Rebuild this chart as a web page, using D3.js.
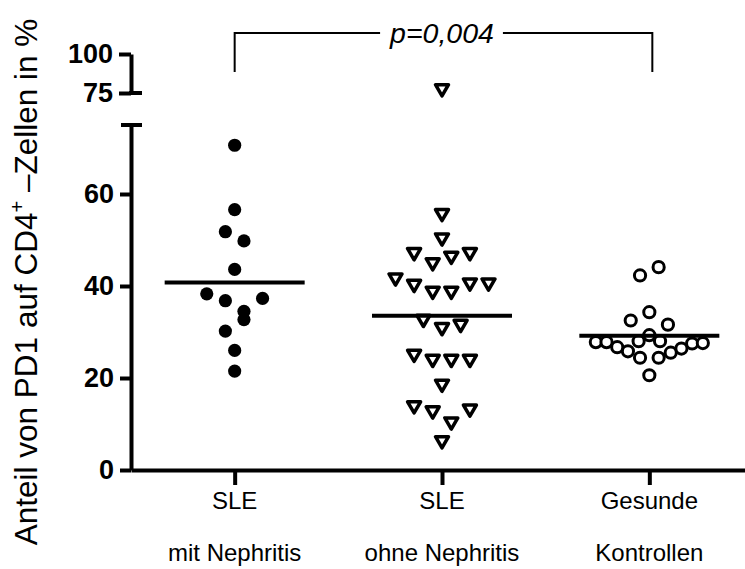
<!doctype html>
<html>
<head>
<meta charset="utf-8">
<style>
    body { margin: 0; background: #fff; }
    text { font-family: "Liberation Sans", Arial, sans-serif; fill: #000; }
    .yaxis .tick text { font-weight: bold; font-size: 27px; }
    .yaxis path, .yaxis line, .xaxis path, .xaxis line { stroke: #000; stroke-width: 4; }
    .cap { stroke: #000; stroke-width: 4; }
    .mean { stroke: #000; stroke-width: 4; }
    .bracket { stroke: #000; stroke-width: 2; fill: none; }
</style>
<script src="https://d3js.org/d3.v7.min.js"></script>
</head>
<body>
<svg width="745" height="569"></svg>
<script>

// categories and values
var groups = ["SLE mit Nephritis", "SLE ohne Nephritis", "Gesunde Kontrollen"];
var groupLabels = [["SLE", "mit Nephritis"], ["SLE", "ohne Nephritis"], ["Gesunde", "Kontrollen"]];

var mitNephritis = [70.6, 56.6, 51.8, 49.8, 43.6, 38.3, 36.8, 34.5, 37.3, 30.2, 32.7, 26.0, 21.5];
var ohneNephritis = [77, 55.5, 50.2, 47.0, 44.8, 46.2, 47.0, 41.5, 40.1, 38.6, 38.6, 40.4, 40.4,
                     32.5, 30.7, 31.4, 24.9, 23.8, 23.8, 23.8, 18.4, 13.7, 12.6, 10.2, 13.0, 6.1];
var kontrollen = [42.3, 44.1, 32.5, 34.3, 31.6, 27.8, 27.8, 26.7, 25.8, 28.0, 29.3, 28.0,
                  25.5, 26.4, 27.5, 27.6, 24.4, 24.4, 20.6];

var lowTicks = [0, 20, 40, 60];
var highTicks = [75, 100];
var pLabel = "p=0,004";

var series = [mitNephritis, ohneNephritis, kontrollen];
var shapes = ["dot", "triangle", "ring"];

var svg = d3.select("svg");

var axisX = 131,
    axisY = 470;

var yLow = d3.scaleLinear().domain([0, 75]).range([axisY, 125]),
    yHigh = d3.scaleLinear().domain([75, 100]).range([93, 54]);

function y(v) { return v > 75 ? yHigh(v) : yLow(v); }

var x = d3.scalePoint().domain(groups).range([axisX, 753]).padding(0.5);

// simple GraphPad-like scatter: bin into rows, spread each row around the centre
function swarm(values) {
    var gapMax = 2.8, spanMax = 4.3, step = 18.6, maxHalf = 53.5;
    var items = values.map(function(v, i) { return {v: v, i: i, dx: 0}; });
    var sorted = items.slice().sort(function(a, b) { return b.v - a.v || a.i - b.i; });
    var rows = [], row = null;
    sorted.forEach(function(d) {
        if (row && row.last - d.v <= gapMax && row.first - d.v <= spanMax) {
            row.items.push(d);
            row.last = d.v;
        } else {
            row = {first: d.v, last: d.v, items: [d]};
            rows.push(row);
        }
    });
    rows.forEach(function(r) {
        var n = r.items.length;
        var s = n > 1 ? Math.min(step, 2 * maxHalf / (n - 1)) : 0;
        r.items.sort(function(a, b) { return a.i - b.i; });
        r.items.forEach(function(d, k) { d.dx = (k - (n - 1) / 2) * s; });
    });
    return items;
}

// y axis, lower part
svg.append("g")
    .attr("class", "yaxis")
    .attr("transform", "translate(" + axisX + ",0)")
    .call(d3.axisLeft(yLow).tickValues(lowTicks).tickSize(11).tickSizeOuter(0).tickPadding(6));

// y axis, upper part above the break
svg.append("g")
    .attr("class", "yaxis")
    .attr("transform", "translate(" + axisX + ",0)")
    .call(d3.axisLeft(yHigh).tickValues(highTicks).tickSize(12).tickSizeOuter(0).tickPadding(6));

// break caps
svg.append("line").attr("class", "cap")
    .attr("x1", axisX - 2).attr("x2", axisX + 11)
    .attr("y1", yHigh(75)).attr("y2", yHigh(75));
svg.append("line").attr("class", "cap")
    .attr("x1", axisX - 10).attr("x2", axisX + 11)
    .attr("y1", yLow(75)).attr("y2", yLow(75));

// x axis
svg.append("g")
    .attr("class", "xaxis")
    .attr("transform", "translate(0," + axisY + ")")
    .call(d3.axisBottom(x).tickSize(15).tickSizeOuter(0).tickFormat(""));

groups.forEach(function(g, i) {
    var t = svg.append("text")
        .attr("text-anchor", "middle")
        .attr("font-size", "24px");
    t.append("tspan").attr("x", x(g)).attr("y", 509).text(groupLabels[i][0]);
    t.append("tspan").attr("x", x(g)).attr("y", 561).text(groupLabels[i][1]);
});

// y title
var title = svg.append("text")
    .attr("transform", "rotate(-90)")
    .attr("x", -282)
    .attr("y", 37)
    .attr("text-anchor", "middle")
    .attr("font-size", "31.5px");
title.append("tspan").text("Anteil von PD1 auf CD4");
title.append("tspan").attr("font-size", "20px").attr("dy", -13).text("+");
title.append("tspan").attr("dy", 13).text(" \u2013Zellen in %");

// points
series.forEach(function(vals, gi) {
    var cx = x(groups[gi]);
    var pts = swarm(vals);
    var g = svg.append("g");
    if (shapes[gi] === "dot") {
        g.selectAll("circle").data(pts).enter().append("circle")
            .attr("cx", function(d) { return cx + d.dx; })
            .attr("cy", function(d) { return y(d.v); })
            .attr("r", 6.6)
            .attr("fill", "#000");
    } else if (shapes[gi] === "triangle") {
        g.selectAll("path").data(pts).enter().append("path")
            .attr("d", "M-6.5,-5.2L6.5,-5.2L0,6Z")
            .attr("transform", function(d) { return "translate(" + (cx + d.dx) + "," + y(d.v) + ")"; })
            .attr("fill", "#fff")
            .attr("stroke", "#000")
            .attr("stroke-width", 3.5)
            .attr("stroke-linejoin", "round");
    } else {
        g.selectAll("circle").data(pts).enter().append("circle")
            .attr("cx", function(d) { return cx + d.dx; })
            .attr("cy", function(d) { return y(d.v); })
            .attr("r", 5.6)
            .attr("fill", "#fff")
            .attr("stroke", "#000")
            .attr("stroke-width", 3);
    }
    // mean line
    var m = d3.mean(vals);
    svg.append("line").attr("class", "mean")
        .attr("x1", cx - 70).attr("x2", cx + 70)
        .attr("y1", y(m)).attr("y2", y(m));
});

// significance bracket
var bx1 = x(groups[0]), bx2 = x(groups[2]) + 3, by = 33, byEnd = 72;
var pt = svg.append("text")
    .attr("x", x(groups[1]))
    .attr("y", 43)
    .attr("text-anchor", "middle")
    .attr("font-style", "italic")
    .attr("font-size", "28.5px")
    .text(pLabel);
var bb = pt.node().getBBox();
svg.append("path").attr("class", "bracket")
    .attr("d", "M" + bx1 + "," + byEnd + "V" + by + "H" + (bb.x - 9));
svg.append("path").attr("class", "bracket")
    .attr("d", "M" + (bb.x + bb.width + 9) + "," + by + "H" + bx2 + "V" + byEnd);

</script>
</body>
</html>
